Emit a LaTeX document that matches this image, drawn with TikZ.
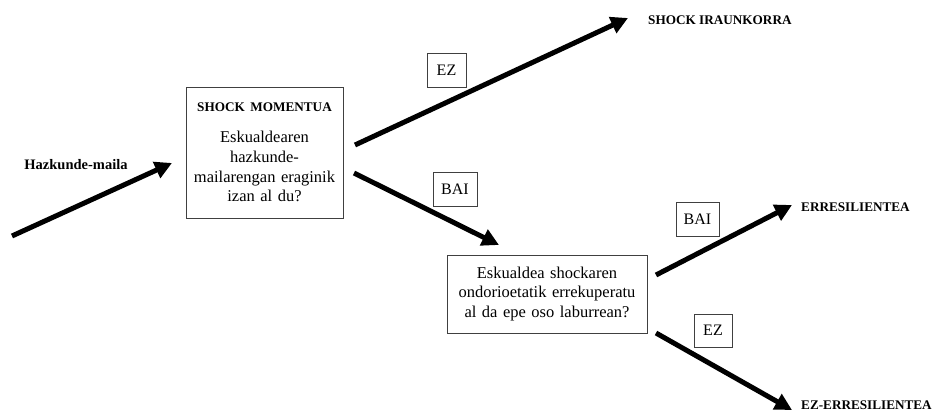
\documentclass[tikz,border=0pt]{standalone}
\usepackage{fontspec}
\setmainfont{Liberation Serif}
\usetikzlibrary{arrows.meta}
\tikzset{
  bigarrow/.style={line width=5pt, -{Triangle[length=17pt,width=17pt]}},
  qbox/.style={draw=black!75, line width=0.8pt, align=center, inner sep=0pt},
  answer/.style={draw=black!75, line width=0.8pt, inner sep=0pt, font=\fontsize{16}{18}\selectfont},
  result/.style={anchor=west, inner sep=0pt, font=\fontsize{13.2}{16}\selectfont\bfseries},
}

\begin{document}
\begin{tikzpicture}[x=1pt, y=1pt, font=\fontsize{16.5}{19.8}\selectfont]
	\useasboundingbox (0,0) rectangle (933,412);

	\node[qbox, minimum width=157pt, minimum height=131pt, text width=152pt] (moment) at (264.5,259.5)
		{{\fontsize{13.2}{16}\selectfont\bfseries SHOCK MOMENTUA}\\[11pt]
		 Eskualdearen\\ hazkunde-\\ mailarengan eraginik\\ izan al du?};
	\node[qbox, minimum width=200pt, minimum height=78pt, text width=196pt] (recover) at (547,118)
		{Eskualdea shockaren\\ ondorioetatik errekuperatu\\ al da epe oso laburrean?};

	\node[result, anchor=center, font=\fontsize{14.5}{16}\selectfont\bfseries] (growth) at (76,247) {Hazkunde-maila};
	\node[result] (perm) at (648,392) {SHOCK IRAUNKORRA};
	\node[result] (resil) at (801,205) {ERRESILIENTEA};
	\node[result] (nonresil) at (801,7) {EZ-ERRESILIENTEA};

	\node[answer, minimum width=39pt, minimum height=34pt] (no1) at (446.5,342) {EZ};
	\node[answer, minimum width=44pt, minimum height=34pt] (yes1) at (455,223) {BAI};
	\node[answer, minimum width=43pt, minimum height=34pt] (yes2) at (697.5,193) {BAI};
	\node[answer, minimum width=38pt, minimum height=33pt] (no2) at (713,81.5) {EZ};

	\coordinate (in0) at (12,176);
	\coordinate (in1) at (172,249);
	\coordinate (up0) at (355,267);
	\coordinate (up1) at (628,394);
	\coordinate (dn0) at (354,239);
	\coordinate (dn1) at (499,167);
	\coordinate (r0) at (656,137);
	\coordinate (r1) at (792,207);
	\coordinate (n0) at (656,79);
	\coordinate (n1) at (792,2);

	\draw[bigarrow] (in0) -- (in1);
	\draw[bigarrow] (up0) -- (up1);
	\draw[bigarrow] (dn0) -- (dn1);
	\draw[bigarrow] (r0) -- (r1);
	\draw[bigarrow] (n0) -- (n1);
\end{tikzpicture}
\end{document}
